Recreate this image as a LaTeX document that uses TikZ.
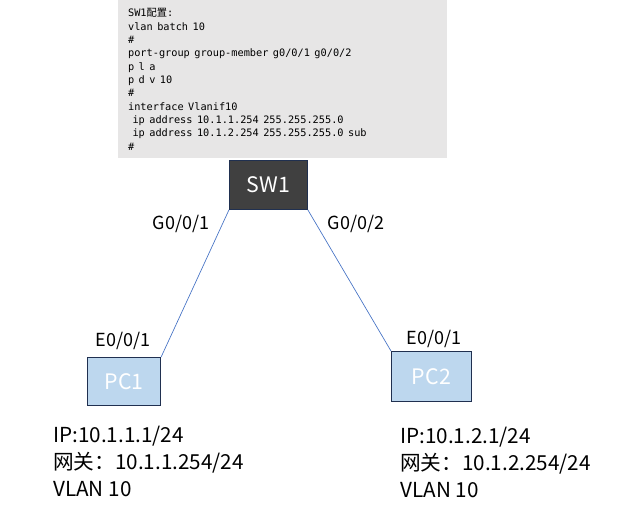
\documentclass[tikz,border=0pt]{standalone}
\usepackage{fontspec}
\setmainfont{Noto Sans CJK SC}
\newfontfamily\codefont{DejaVu Sans Mono}[WordSpace={1,0,0}]
\newfontfamily\cjk{Noto Sans CJK SC}
\usepackage{xcolor}
\usepackage{tikz}
\usetikzlibrary{positioning}
\definecolor{cfggray}{HTML}{E7E6E6}
\definecolor{swdark}{HTML}{404040}
\definecolor{pcblue}{HTML}{BDD7EE}
\definecolor{boxedge}{HTML}{203050}
\definecolor{linkblue}{HTML}{4472C4}

\begin{document}
\begin{tikzpicture}[x=0.75pt,y=-0.75pt,
        device/.style={
            draw=boxedge,
            line width=0.6pt,
            minimum width=#1,
            font=\fontsize{16}{18}\selectfont,
            text=white
        },
        link/.style={linkblue,line width=0.5pt},
        port/.style={font=\fontsize{13.5}{16}\selectfont,inner sep=0pt},
        info/.style={font=\fontsize{15.5}{20}\selectfont,align=left,anchor=north west,inner sep=0pt}
    ]
        \useasboundingbox (0,0) rectangle (625,509);

        \node[fill=cfggray,anchor=north west,minimum width=246.75pt,minimum height=118.5pt,
              text width=232pt,inner xsep=7pt] (cfg) at (118,0)
            {\codefont\fontsize{7.7}{10}\selectfont\raggedright
             SW1{\cjk 配置}:\\vlan batch 10\\\#\\port-group group-member g0/0/1 g0/0/2\\p l a\\p d v 10\\\#\\interface Vlanif10\\\ ip address 10.1.1.254 255.255.255.0\\\ ip address 10.1.2.254 255.255.255.0 sub\\\#\par};

        \node[device=58.5pt,fill=swdark,minimum height=36.75pt,anchor=north west] (sw1) at (229,160) {SW1};
        \node[device=55pt,fill=pcblue,minimum height=36pt,anchor=north west] (pc1) at (87,357) {PC1};
        \node[device=60pt,fill=pcblue,minimum height=37.5pt,anchor=north west] (pc2) at (391,351) {PC2};

        \draw[link] (sw1.south west) -- (pc1.north east);
        \draw[link] (sw1.south east) -- (pc2.north west);

        \node[port] (g1) at (181,224) {G0/0/1};
        \node[port] (g2) at (356,224) {G0/0/2};
        \node[port] (e1) at (123,341) {E0/0/1};
        \node[port] (e2) at (434,339) {E0/0/1};

        \node[info] (ip1) at (53,426) {IP:10.1.1.1/24\\网关：10.1.1.254/24\\VLAN 10};
        \node[info] (ip2) at (400,427) {IP:10.1.2.1/24\\网关：10.1.2.254/24\\VLAN 10};
    \end{tikzpicture}
\end{document}
